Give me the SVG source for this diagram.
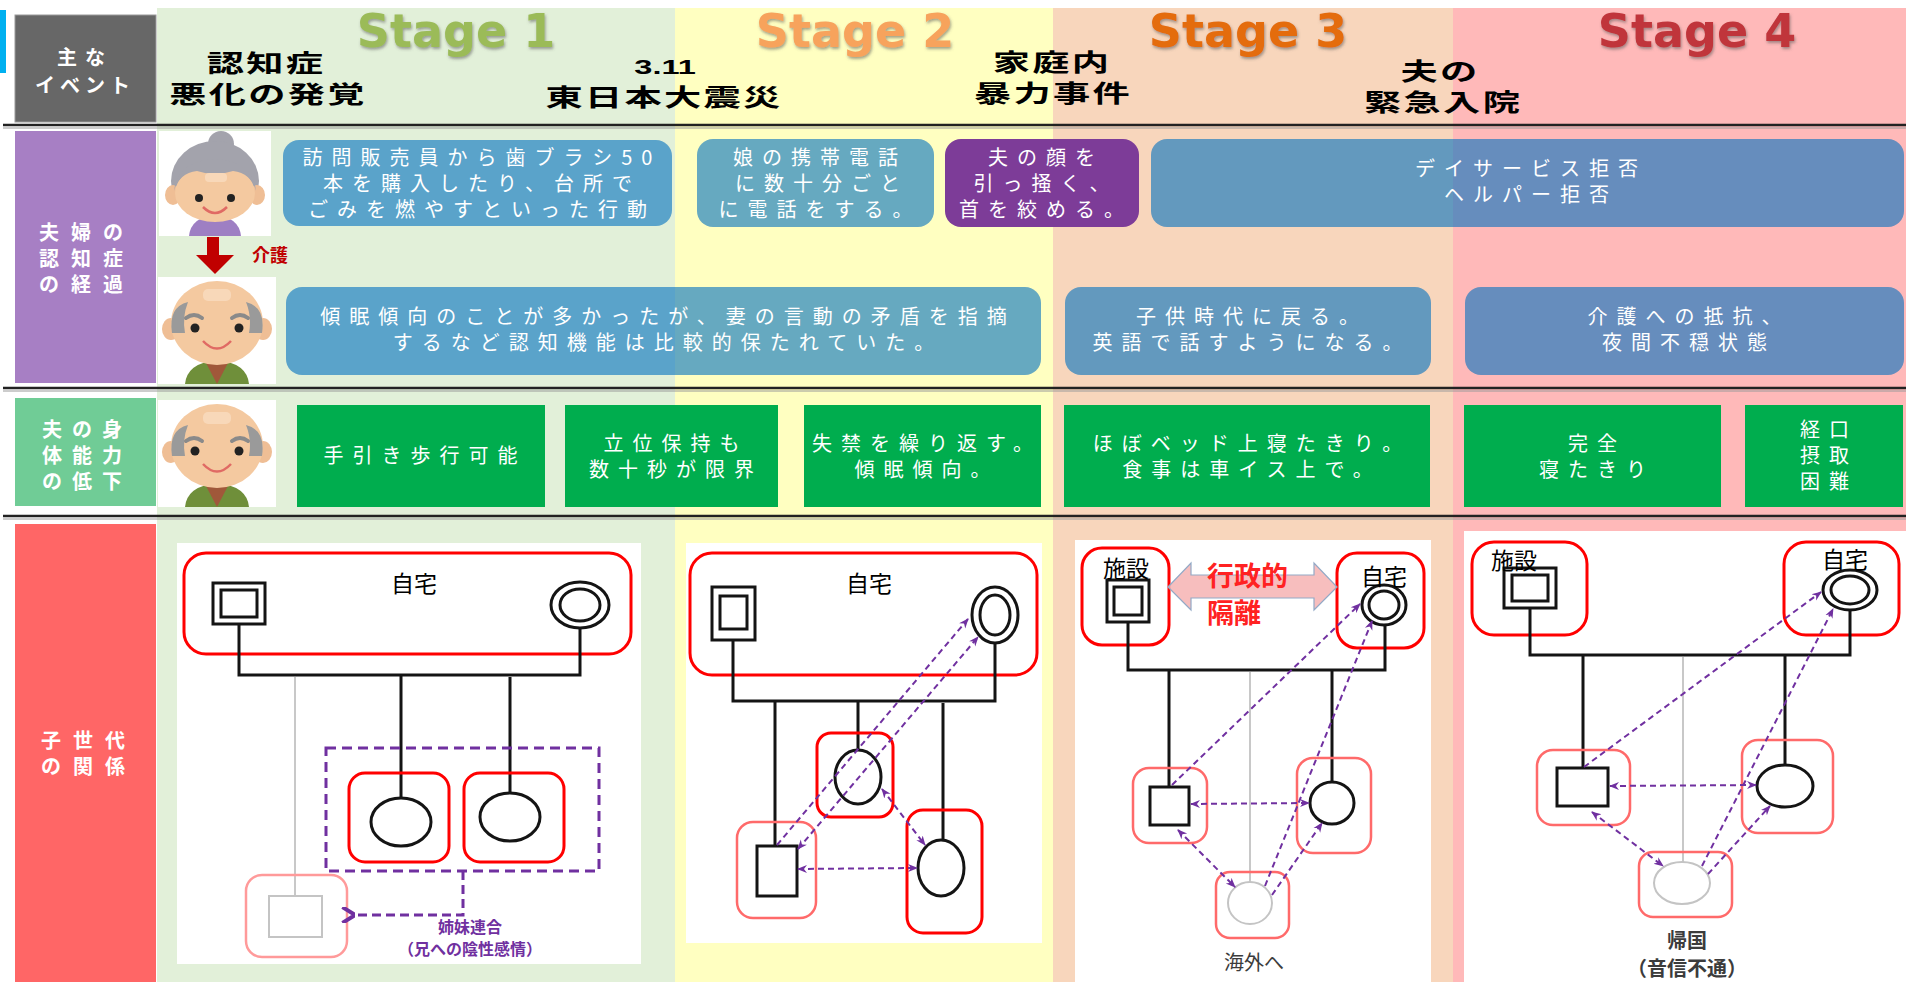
<svg xmlns="http://www.w3.org/2000/svg" xmlns:xlink="http://www.w3.org/1999/xlink" width="1906" height="982" viewBox="0 0 1906 982">
<defs>
<style>
.jp{font-family:"Noto Sans CJK JP","Noto Sans",sans-serif}
.ev{font-family:"Noto Sans CJK JP",sans-serif;font-size:24px;font-weight:700;fill:#000;text-anchor:middle;letter-spacing:1.5px}
.lb{font-family:"Noto Sans CJK JP",sans-serif;font-size:20px;font-weight:700;fill:#fff;text-anchor:middle}
.bx{font-family:"Noto Sans CJK JP",sans-serif;font-size:20px;fill:#fff;text-anchor:middle;letter-spacing:9px}
.blue{fill:#0070BF;fill-opacity:0.6}
.grn{fill:#00AD4E}
.st{font-family:"DejaVu Sans",sans-serif;font-size:46px;font-weight:700;text-anchor:middle;filter:url(#sh)}
.home{fill:none;stroke:#FF0000;stroke-width:3}
.soft{fill:none;stroke:#FF6A6A;stroke-width:2.5}
.ln{fill:none;stroke:#141414;stroke-width:3}
.fig{fill:#fff;stroke:#141414;stroke-width:3}
.faint{fill:#fff;stroke:#C4C4C4;stroke-width:2}
.dash{fill:none;stroke:#7030A0;stroke-width:2;stroke-dasharray:6 4}
.name{font-family:"Noto Sans CJK JP",sans-serif;font-size:23px;fill:#000;text-anchor:middle}
.sep{stroke:#222;stroke-width:2.5}
.sep2{stroke:#9a9a9a;stroke-width:1}
</style>
<filter id="sh" x="-10%" y="-20%" width="120%" height="150%">
<feDropShadow dx="1" dy="2" stdDeviation="1.5" flood-color="#555" flood-opacity="0.55"/>
</filter>
<marker id="ah" viewBox="0 0 10 10" refX="9" refY="5" markerWidth="10" markerHeight="10" markerUnits="userSpaceOnUse" orient="auto-start-reverse">
<path d="M0,1 L10,5 L0,9 L3,5 Z" fill="#7030A0"/>
</marker>
<marker id="ahL" viewBox="0 0 10 10" refX="2" refY="5" markerWidth="16" markerHeight="16" markerUnits="userSpaceOnUse" orient="auto">
<path d="M0,5 L8,0 M0,5 L8,10" stroke="#7030A0" stroke-width="2.4" fill="none"/>
</marker>
<!-- elderly man illustration, 118x107 -->
<g id="grandpa">
<rect width="118" height="107" fill="#fff"/>
<path d="M27 107 Q29 86 59 83 Q89 86 91 107 Z" fill="#6F8F3A"/>
<path d="M47 84 L59 107 L71 84 Z" fill="#A0583A"/>
<ellipse cx="13" cy="52" rx="9" ry="11" fill="#EFBE95"/>
<ellipse cx="105" cy="52" rx="9" ry="11" fill="#EFBE95"/>
<ellipse cx="59" cy="46" rx="46" ry="42" fill="#F4C9A0"/>
<path d="M14 56 Q10 30 30 25 Q24 40 27 56 Z" fill="#9A9A9A"/>
<path d="M104 56 Q108 30 88 25 Q94 40 91 56 Z" fill="#9A9A9A"/>
<rect x="45" y="12" width="28" height="12" rx="5" fill="#F8D8B9"/>
<path d="M28 41 Q36 35 44 41" stroke="#8A8A8A" stroke-width="4" fill="none" stroke-linecap="round"/>
<path d="M74 41 Q82 35 90 41" stroke="#8A8A8A" stroke-width="4" fill="none" stroke-linecap="round"/>
<circle cx="37" cy="51" r="4.5" fill="#222"/>
<circle cx="81" cy="51" r="4.5" fill="#222"/>
<path d="M45 64 Q59 79 73 64" stroke="#E06A64" stroke-width="2.5" fill="none"/>
</g>
<!-- elderly woman illustration, 112x105 -->
<g id="granny">
<rect width="112" height="105" fill="#fff"/>
<path d="M30 105 Q32 86 56 84 Q80 86 82 105 Z" fill="#9E7FC3"/>
<circle cx="62" cy="13" r="13" fill="#A3A3AC"/>
<ellipse cx="56" cy="50" rx="44" ry="40" fill="#A3A3AC"/>
<ellipse cx="14" cy="64" rx="8" ry="10" fill="#EFBE95"/>
<ellipse cx="98" cy="64" rx="8" ry="10" fill="#EFBE95"/>
<ellipse cx="56" cy="62" rx="40" ry="29" fill="#F4C9A0"/>
<path d="M15 60 Q18 30 56 28 Q94 30 97 60 Q92 42 74 40 Q56 46 38 40 Q20 42 15 60 Z" fill="#A3A3AC"/>
<rect x="46" y="42" width="22" height="9" rx="4" fill="#F8D8B9"/>
<circle cx="40" cy="67" r="4" fill="#222"/>
<circle cx="72" cy="67" r="4" fill="#222"/>
<path d="M44 76 Q56 88 68 76" stroke="#E06A64" stroke-width="2.5" fill="none"/>
</g>
</defs>

<rect width="1906" height="982" fill="#fff"/>

<!-- stage columns -->
<g id="stage-backgrounds">
<rect x="157" y="8" width="518" height="974" fill="#E2F0D9"/>
<rect x="675" y="8" width="378" height="974" fill="#FFFFC1"/>
<rect x="1053" y="8" width="400" height="974" fill="#F8D6BC"/>
<rect x="1453" y="8" width="453" height="974" fill="#FFB9B9"/>
<rect x="0" y="10" width="6" height="63" fill="#00B0F0"/>
</g>

<g id="stage-titles">
<text class="st" x="456" y="47" fill="#9BBB59">Stage 1</text>
<text class="st" x="855" y="47" fill="#F7A35C">Stage 2</text>
<text class="st" x="1248" y="47" fill="#E46C0A">Stage 3</text>
<text class="st" x="1697" y="47" fill="#C0353A">Stage 4</text>
</g>

<g id="row-separators">
<line class="sep" x1="3" y1="125" x2="1906" y2="125"/><line class="sep2" x1="3" y1="128" x2="1906" y2="128"/>
<line class="sep" x1="3" y1="388" x2="1906" y2="388"/><line class="sep2" x1="3" y1="391" x2="1906" y2="391"/>
<line class="sep" x1="3" y1="516" x2="1906" y2="516"/><line class="sep2" x1="3" y1="519" x2="1906" y2="519"/>
</g>

<!-- row labels -->
<g id="label-events">
<rect x="15" y="15" width="141" height="107" fill="#676767" stroke="#9a9a9a" stroke-width="1"/>
<text class="lb"><tspan x="85" y="65" style="letter-spacing:8px">主な</tspan><tspan x="85" y="93" style="letter-spacing:5px">イベント</tspan></text>
</g>
<g id="label-dementia">
<rect x="15" y="131" width="141" height="252" fill="#A77FC4"/>
<text class="lb" style="letter-spacing:12px"><tspan x="87" y="240">夫婦の</tspan><tspan x="87" y="266">認知症</tspan><tspan x="87" y="292">の経過</tspan></text>
</g>
<g id="label-physical">
<rect x="15" y="398" width="141" height="108" fill="#70CC96"/>
<text class="lb" style="letter-spacing:10px"><tspan x="87" y="437">夫の身</tspan><tspan x="87" y="463">体能力</tspan><tspan x="87" y="489">の低下</tspan></text>
</g>
<g id="label-children">
<rect x="15" y="524" width="141" height="458" fill="#FF6666"/>
<text class="lb" style="letter-spacing:12px"><tspan x="89" y="748">子世代</tspan><tspan x="89" y="774">の関係</tspan></text>
</g>

<!-- main events -->
<g id="event-1">
<text class="ev" transform="translate(266,0) scale(1.55,1)"><tspan x="0" y="72">認知症</tspan><tspan x="1.3" y="103">悪化の発覚</tspan></text>
</g>
<g id="event-2">
<text class="ev" transform="translate(664,0) scale(1.55,1)"><tspan x="0.7" y="74" style="font-family:'Liberation Sans',sans-serif;font-size:21px;letter-spacing:0">3.11</tspan><tspan x="0" y="106">東日本大震災</tspan></text>
</g>
<g id="event-3">
<text class="ev" transform="translate(1052,0) scale(1.55,1)"><tspan x="0" y="71">家庭内</tspan><tspan x="0.7" y="102">暴力事件</tspan></text>
</g>
<g id="event-4">
<text class="ev" transform="translate(1440,0) scale(1.55,1)"><tspan x="0" y="80">夫の</tspan><tspan x="2" y="111">緊急入院</tspan></text>
</g>

<!-- dementia course -->
<g id="wife-icon"><use xlink:href="#granny" x="159" y="131"/></g>
<g id="care-arrow">
<rect x="207" y="237" width="12" height="21" fill="#C00000"/>
<path d="M196 255 L234 255 L215 274 Z" fill="#C00000"/>
<text x="252" y="262" class="jp" style="font-size:18px;font-weight:700;fill:#C00000">介護</text>
</g>
<g id="husband-icon"><use xlink:href="#grandpa" x="158" y="277"/></g>

<g id="wife-s1">
<rect class="blue" x="283" y="140" width="389" height="86" rx="16"/>
<text class="bx"><tspan x="482" y="165">訪問販売員から歯ブラシ50</tspan><tspan x="482" y="191">本を購入したり、台所で</tspan><tspan x="482" y="217">ごみを燃やすといった行動</tspan></text>
</g>
<g id="wife-s2">
<rect class="blue" x="697" y="139" width="237" height="88" rx="16"/>
<text class="bx"><tspan x="820" y="165">娘の携帯電話</tspan><tspan x="822" y="191">に数十分ごと</tspan><tspan x="820" y="217">に電話をする。</tspan></text>
</g>
<g id="wife-s2b">
<rect x="945" y="139" width="194" height="88" rx="16" fill="#7D3C98"/>
<text class="bx"><tspan x="1046" y="165">夫の顔を</tspan><tspan x="1046" y="191">引っ掻く、</tspan><tspan x="1046" y="217">首を絞める。</tspan></text>
</g>
<g id="wife-s34">
<rect class="blue" x="1151" y="139" width="753" height="88" rx="16"/>
<text class="bx"><tspan x="1531" y="176">デイサービス拒否</tspan><tspan x="1531" y="202">ヘルパー拒否</tspan></text>
</g>
<g id="husband-s12">
<rect class="blue" x="286" y="287" width="755" height="88" rx="16"/>
<text class="bx"><tspan x="668" y="324">傾眠傾向のことが多かったが、妻の言動の矛盾を指摘</tspan><tspan x="668" y="350">するなど認知機能は比較的保たれていた。</tspan></text>
</g>
<g id="husband-s3">
<rect class="blue" x="1065" y="287" width="366" height="88" rx="16"/>
<text class="bx"><tspan x="1252" y="324">子供時代に戻る。</tspan><tspan x="1252" y="350">英語で話すようになる。</tspan></text>
</g>
<g id="husband-s4">
<rect class="blue" x="1465" y="287" width="439" height="88" rx="16"/>
<text class="bx"><tspan x="1689" y="324">介護への抵抗、</tspan><tspan x="1689" y="350">夜間不穏状態</tspan></text>
</g>

<!-- physical decline -->
<g id="husband-icon-2"><use xlink:href="#grandpa" x="158" y="400"/></g>
<g id="phys-1">
<rect class="grn" x="297" y="405" width="248" height="102"/>
<text class="bx" x="425" y="463">手引き歩行可能</text>
</g>
<g id="phys-2">
<rect class="grn" x="565" y="405" width="213" height="102"/>
<text class="bx"><tspan x="676" y="451">立位保持も</tspan><tspan x="676" y="477">数十秒が限界</tspan></text>
</g>
<g id="phys-3">
<rect class="grn" x="804" y="405" width="237" height="102"/>
<text class="bx"><tspan x="927" y="451">失禁を繰り返す。</tspan><tspan x="927" y="477">傾眠傾向。</tspan></text>
</g>
<g id="phys-4">
<rect class="grn" x="1064" y="405" width="366" height="102"/>
<text class="bx"><tspan x="1252" y="451">ほぼベッド上寝たきり。</tspan><tspan x="1252" y="477">食事は車イス上で。</tspan></text>
</g>
<g id="phys-5">
<rect class="grn" x="1464" y="405" width="257" height="102"/>
<text class="bx"><tspan x="1597" y="451">完全</tspan><tspan x="1597" y="477">寝たきり</tspan></text>
</g>
<g id="phys-6">
<rect class="grn" x="1745" y="405" width="158" height="102"/>
<text class="bx"><tspan x="1829" y="437">経口</tspan><tspan x="1829" y="463">摂取</tspan><tspan x="1829" y="489">困難</tspan></text>
</g>

<!-- family panels -->
<g id="panel-s1">
<rect x="177" y="543" width="464" height="421" fill="#fff"/>
<rect class="home" x="184" y="553" width="447" height="101" rx="22"/>
<text class="name" x="414" y="592">自宅</text>
<path class="ln" d="M239 624 V675 H580 V628"/>
<line x1="295" y1="677" x2="295" y2="896" stroke="#C8C8C8" stroke-width="2"/>
<path class="ln" d="M401 675 V798 M510 677 V793"/>
<rect class="fig" x="213" y="583" width="52" height="41"/>
<rect class="fig" x="221" y="590" width="36" height="27"/>
<ellipse class="fig" cx="580" cy="605" rx="29" ry="23"/>
<ellipse class="fig" cx="580" cy="605" rx="20" ry="16"/>
<rect class="home" x="349" y="773" width="100" height="89" rx="16"/>
<rect class="home" x="464" y="773" width="100" height="89" rx="16"/>
<ellipse class="fig" cx="401" cy="822" rx="30" ry="24"/>
<ellipse class="fig" cx="510" cy="817" rx="30" ry="24"/>
<rect x="326" y="748" width="273" height="123" fill="none" stroke="#7030A0" stroke-width="3" stroke-dasharray="10 6"/>
<rect x="246" y="875" width="101" height="82" rx="16" fill="none" stroke="#FF9A9A" stroke-width="2.5"/>
<rect class="faint" x="269" y="896" width="53" height="41"/>
<text class="jp" style="font-size:16px;font-weight:700;fill:#7030A0;text-anchor:middle"><tspan x="470" y="933">姉妹連合</tspan><tspan x="470" y="955">（兄への陰性感情）</tspan></text>
</g>

<g id="panel-s2">
<rect x="686" y="543" width="356" height="400" fill="#fff"/>
<rect class="home" x="690" y="553" width="347" height="122" rx="22"/>
<text class="name" x="869" y="592">自宅</text>
<path class="ln" d="M733 640 V701 H995 V644"/>
<path class="ln" d="M775 701 V846 M858 701 V750 M943 703 V840"/>
<rect class="fig" x="712" y="587" width="43" height="53"/>
<rect class="fig" x="720" y="596" width="27" height="33"/>
<ellipse class="fig" cx="995" cy="615" rx="23" ry="28"/>
<ellipse class="fig" cx="995" cy="615" rx="15" ry="20"/>
<rect class="home" x="817" y="733" width="76" height="84" rx="14"/>
<ellipse class="fig" cx="858" cy="777" rx="23" ry="27"/>
<rect class="soft" x="737" y="822" width="79" height="96" rx="16"/>
<rect class="fig" x="757" y="846" width="40" height="50"/>
<rect class="home" x="907" y="810" width="75" height="123" rx="16"/>
<ellipse class="fig" cx="941" cy="868" rx="23" ry="28"/>
</g>

<g id="panel-s3">
<rect x="1075" y="540" width="356" height="442" fill="#fff"/>
<rect class="home" x="1082" y="548" width="87" height="97" rx="20"/>
<rect class="home" x="1337" y="553" width="87" height="95" rx="20"/>
<path d="M1168 587 L1191 563 V575 H1314 V563 L1337 587 L1314 610 V598 H1191 V610 Z" fill="#F6B3B3" fill-opacity="0.85" stroke="#93A9C6" stroke-width="1.2"/>
<text class="jp" style="font-size:27px;font-weight:700;fill:#F22"><tspan x="1207" y="586">行政的</tspan><tspan x="1207" y="623">隔離</tspan></text>
<path class="ln" d="M1128 622 V670 H1385 V625"/>
<line x1="1250" y1="672" x2="1250" y2="882" stroke="#C8C8C8" stroke-width="2"/>
<path class="ln" d="M1169 670 V787 M1332 670 V782"/>
<rect class="fig" x="1107" y="580" width="42" height="42"/>
<rect class="fig" x="1114" y="587" width="28" height="28"/>
<ellipse class="fig" cx="1384" cy="605" rx="22" ry="20"/>
<ellipse class="fig" cx="1384" cy="605" rx="15" ry="14"/>
<text class="name" x="1126" y="577">施設</text>
<text class="name" x="1384" y="585">自宅</text>
<rect class="soft" x="1133" y="768" width="74" height="75" rx="16"/>
<rect class="fig" x="1150" y="787" width="39" height="38"/>
<rect class="soft" x="1297" y="758" width="74" height="95" rx="16"/>
<ellipse class="fig" cx="1332" cy="803" rx="22" ry="21"/>
<rect class="soft" x="1216" y="872" width="73" height="66" rx="14"/>
<ellipse class="faint" cx="1250" cy="903" rx="22" ry="21"/>
<text x="1254" y="970" class="jp" style="font-size:20px;fill:#3C3C3C;text-anchor:middle">海外へ</text>
</g>

<g id="panel-s4">
<rect x="1464" y="531" width="442" height="451" fill="#fff"/>
<rect class="home" x="1472" y="542" width="115" height="93" rx="22"/>
<rect class="home" x="1784" y="542" width="115" height="93" rx="22"/>
<path class="ln" d="M1530 608 V655 H1850 V610"/>
<line x1="1683" y1="657" x2="1683" y2="862" stroke="#C8C8C8" stroke-width="2"/>
<path class="ln" d="M1583 655 V768 M1785 655 V765"/>
<rect class="fig" x="1504" y="568" width="52" height="40"/>
<rect class="fig" x="1512" y="575" width="36" height="26"/>
<ellipse class="fig" cx="1850" cy="590" rx="27" ry="20"/>
<ellipse class="fig" cx="1850" cy="590" rx="19" ry="14"/>
<text class="name" x="1514" y="569">施設</text>
<text class="name" x="1845" y="568">自宅</text>
<rect class="soft" x="1537" y="750" width="93" height="75" rx="16"/>
<rect class="fig" x="1557" y="768" width="51" height="38"/>
<rect class="soft" x="1742" y="740" width="91" height="93" rx="16"/>
<ellipse class="fig" cx="1785" cy="786" rx="28" ry="21"/>
<rect class="soft" x="1639" y="852" width="93" height="65" rx="14"/>
<ellipse class="faint" cx="1682" cy="883" rx="28" ry="21"/>
<text class="jp" style="font-size:20px;font-weight:700;fill:#3C3C3C;text-anchor:middle"><tspan x="1687" y="948">帰国</tspan><tspan x="1687" y="976">（音信不通）</tspan></text>
</g>

<!-- relationship connectors -->
<g id="connectors">
<path d="M463 871 V915 H352" fill="none" stroke="#7030A0" stroke-width="3" stroke-dasharray="9 5" marker-end="url(#ahL)"/>
<line class="dash" x1="777" y1="845" x2="968" y2="619" marker-end="url(#ah)"/>
<line class="dash" x1="798" y1="849" x2="978" y2="637" marker-start="url(#ah)" marker-end="url(#ah)"/>
<line class="dash" x1="882" y1="789" x2="925" y2="845" marker-start="url(#ah)" marker-end="url(#ah)"/>
<line class="dash" x1="798" y1="869" x2="917" y2="868" marker-start="url(#ah)" marker-end="url(#ah)"/>
<line class="dash" x1="1172" y1="785" x2="1360" y2="604" marker-end="url(#ah)"/>
<line class="dash" x1="1191" y1="804" x2="1309" y2="803" marker-start="url(#ah)" marker-end="url(#ah)"/>
<line class="dash" x1="1178" y1="830" x2="1235" y2="887" marker-start="url(#ah)" marker-end="url(#ah)"/>
<line class="dash" x1="1265" y1="886" x2="1372" y2="621" marker-end="url(#ah)"/>
<line class="dash" x1="1272" y1="895" x2="1322" y2="823" marker-end="url(#ah)"/>
<line class="dash" x1="1584" y1="767" x2="1821" y2="592" marker-end="url(#ah)"/>
<line class="dash" x1="1610" y1="786" x2="1756" y2="785" marker-start="url(#ah)" marker-end="url(#ah)"/>
<line class="dash" x1="1592" y1="812" x2="1663" y2="866" marker-start="url(#ah)" marker-end="url(#ah)"/>
<line class="dash" x1="1702" y1="866" x2="1833" y2="609" marker-end="url(#ah)"/>
<line class="dash" x1="1708" y1="874" x2="1770" y2="806" marker-end="url(#ah)"/>
</g>
</svg>
